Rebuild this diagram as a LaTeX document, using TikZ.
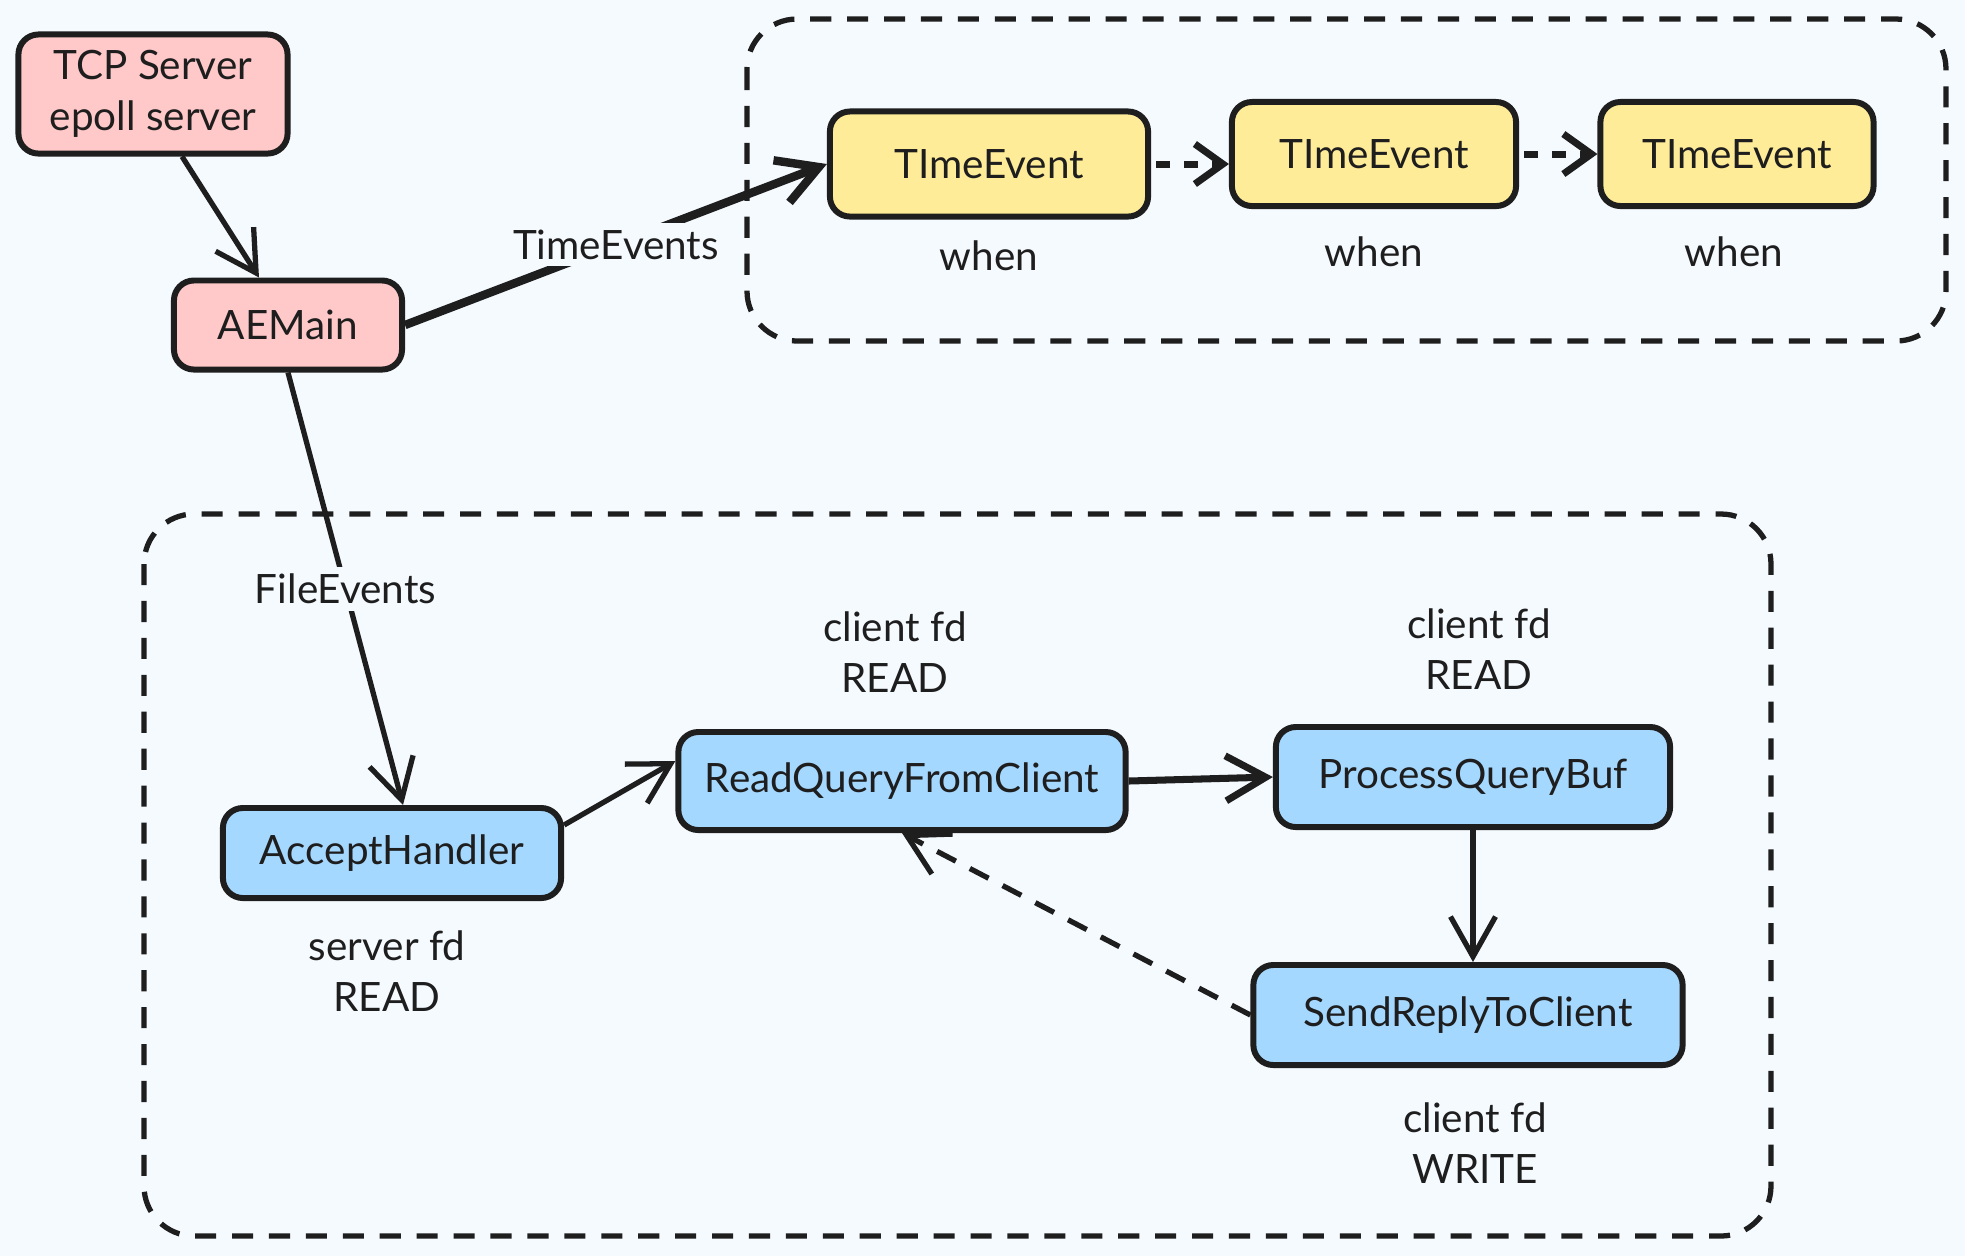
\documentclass[tikz,border=0pt]{standalone}
\usepackage{fontspec}
\setmainfont{Lato}
\usetikzlibrary{arrows.meta}
\definecolor{bgblue}{HTML}{F5FAFF}
\definecolor{pinkfill}{HTML}{FFC9C9}
\definecolor{yellowfill}{HTML}{FFEC99}
\definecolor{bluefill}{HTML}{A5D8FF}
\definecolor{ink}{HTML}{1E1E1E}

\begin{document}
\begin{tikzpicture}[x=0.01cm,y=-0.01cm,color=ink,line width=1.5pt,font=\fontsize{11.5}{14.5}\selectfont,
  box/.style={draw,line width=1.7pt,rounded corners=0.2cm,align=center,inner sep=0pt},
  arr/.style={-{Straight Barb[length=0.4cm,width=0.45cm]}},
  shortarr/.style={-{Straight Barb[length=0.28cm,width=0.4cm]},line width=2pt,dash pattern=on 4pt off 4pt},
  dashbox/.style={dash pattern=on 6pt off 4.5pt,rounded corners=0.5cm},
  lbl/.style={align=center}]
  \fill[bgblue] (0,0) rectangle (1965,1256); \useasboundingbox (0,0) rectangle (1965,1256);
  % groups
  \draw[dashbox] (747,19) rectangle (1946,341);
  \draw[dashbox] (144,514) rectangle (1771,1236);
  % server side
  \node[box,fill=pinkfill,minimum width=2.69cm,minimum height=1.19cm] (tcp) at (153,94) {TCP Server\\epoll server};
  \node[box,fill=pinkfill,minimum width=2.28cm,minimum height=0.89cm] (aemain) at (288,325) {AEMain};
  % time events
  \node[box,fill=yellowfill,minimum width=3.18cm,minimum height=1.05cm] (te1) at (989,164) {TImeEvent};
  \node[box,fill=yellowfill,minimum width=2.84cm,minimum height=1.04cm] (te2) at (1374,154) {TImeEvent};
  \node[box,fill=yellowfill,minimum width=2.73cm,minimum height=1.04cm] (te3) at (1737,154) {TImeEvent};
  \node[lbl] (when1) at (989,256) {when}; \node[lbl] (when2) at (1374,252) {when}; \node[lbl] (when3) at (1734,252) {when};
  % file events
  \node[box,fill=bluefill,minimum width=3.38cm,minimum height=0.90cm] (accept) at (392,853) {AcceptHandler};
  \node[box,fill=bluefill,minimum width=4.47cm,minimum height=0.98cm] (readq) at (902,781) {ReadQueryFromClient};
  \node[box,fill=bluefill,minimum width=3.94cm,minimum height=1.00cm] (procq) at (1473,777) {ProcessQueryBuf};
  \node[box,fill=bluefill,minimum width=4.29cm,minimum height=1.00cm] (sendr) at (1468,1015) {SendReplyToClient};
  \node[lbl] (acceptfd) at (387,971) {server fd\\READ};
  \node[lbl] (readfd) at (895,652) {client fd\\READ};
  \node[lbl] (procfd) at (1479,649) {client fd\\READ};
  \node[lbl] (sendfd) at (1475,1143) {client fd\\WRITE};
  % connectors
  \draw[arr] ([xshift=0.29cm]tcp.south) -- ([xshift=-0.29cm]aemain.north);
  \draw[arr,line width=2.4pt] (aemain.east) -- (te1.west) node[midway,fill=bgblue,inner sep=2pt] (tlabel) {TimeEvents};
  \draw[arr] (aemain.south) -- ([xshift=0.11cm]accept.north) node[midway,fill=bgblue,inner sep=2pt] (flabel) {FileEvents};
  \draw[shortarr] ([xshift=0.05cm]te1.east) -- (te1.east -| te2.west);
  \draw[shortarr] ([xshift=0.05cm]te2.east) -- (te3.west);
  \draw[arr] ([yshift=0.28cm]accept.east) -- ([yshift=0.2cm]readq.west);
  \draw[arr,line width=2pt] (readq.east) -- (procq.west);
  \draw[arr] (procq.south) -- (procq.south |- sendr.north);
  \draw[arr,dash pattern=on 6pt off 4.5pt] (sendr.west) -- (readq.south);
\end{tikzpicture}
\end{document}
